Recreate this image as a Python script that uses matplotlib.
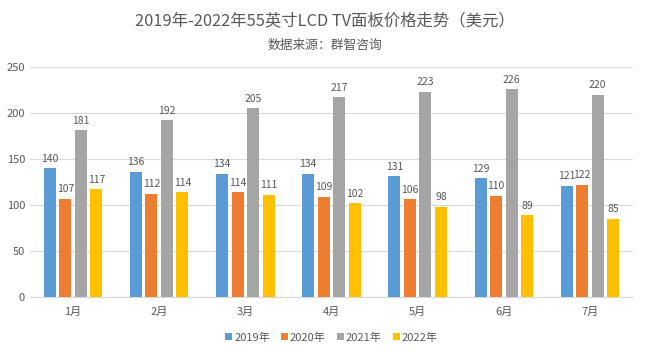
import numpy as np
import matplotlib
matplotlib.use("Agg")
import matplotlib.pyplot as plt

plt.rcParams['font.family'] = ['Noto Sans CJK SC', 'DejaVu Sans']

months = ["1月", "2月", "3月", "4月", "5月", "6月", "7月"]
years = ["2019年", "2020年", "2021年", "2022年"]
v2019 = [140, 136, 134, 134, 131, 129, 121]
v2020 = [107, 112, 114, 109, 106, 110, 122]
v2021 = [181, 192, 205, 217, 223, 226, 220]
v2022 = [117, 114, 111, 102, 98, 89, 85]
colors = ['#5B9BD5', '#ED7D31', '#A5A5A5', '#FFC000']
text_c = '#595959'

fig = plt.figure(figsize=(6.5, 3.51), dpi=100)
ax = fig.add_axes([0.046, 0.154, 0.928, 0.655])

x = np.arange(len(months))
w = 0.14
step = 0.18
series = [v2019, v2020, v2021, v2022]
for i, vals in enumerate(series):
    pos = x + (i - 1.5) * step
    ax.bar(pos, vals, width=w, color=colors[i], label=years[i], zorder=3)
    for p, v in zip(pos, vals):
        ax.text(p, v + 5, str(v), ha='center', va='bottom', fontsize=7.5, color=text_c)

ax.set_xlim(-0.5, 6.5)
ax.set_ylim(0, 250)
ax.set_yticks(range(0, 251, 50))
ax.set_xticks(x)
ax.set_xticklabels(months)
ax.tick_params(axis='both', length=0, labelsize=8, colors=text_c)
ax.tick_params(axis='x', pad=7)
ax.grid(axis='y', color='#D9D9D9', linewidth=0.8, zorder=0)
for s in ['top', 'right', 'left']:
    ax.spines[s].set_visible(False)
ax.spines['bottom'].set_color('#D9D9D9')

fig.text(0.5, 0.94, "2019年-2022年55英寸LCD TV面板价格走势（美元）", ha='center', va='center',
         fontsize=11.8, color=text_c)
fig.text(0.5, 0.872, "数据来源：群智咨询", ha='center', va='center', fontsize=9.2, color=text_c)

ax.legend(loc='upper center', bbox_to_anchor=(0.5, -0.11), ncol=4, frameon=False,
          fontsize=8, handlelength=0.6, handleheight=0.6, handletextpad=0.2,
          columnspacing=1.0, labelcolor=text_c)

fig.savefig("out.png", dpi=100, facecolor='white')
